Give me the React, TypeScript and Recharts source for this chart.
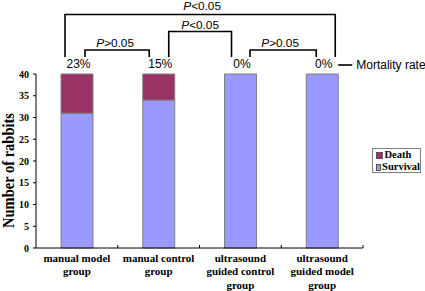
import React from "react";
import { BarChart, Bar, XAxis, YAxis, Legend, LabelList } from "recharts";

// ---- data ----
const categories = [
  "manual model\ngroup",
  "manual control\ngroup",
  "ultrasound\nguided control\ngroup",
  "ultrasound\nguided model\ngroup",
];
const survival = [31, 34, 40, 40];
const death = [9, 6, 0, 0];
const yTicks = [0, 5, 10, 15, 20, 25, 30, 35, 40];
const comparisons = [
  { from: 0, to: 3, op: "<", p: "0.05" },
  { from: 1, to: 2, op: "<", p: "0.05" },
  { from: 0, to: 1, op: ">", p: "0.05" },
  { from: 2, to: 3, op: ">", p: "0.05" },
];
const seriesNames = { survival: "Survival", death: "Death" };
const legendOrder = ["Death", "Survival"];
const rateLabel = "Mortality rate";
const yLabel = "Number of rabbits";

// ---- layout / style ----
const W = 425;
const H = 291;
const PLOT_LEFT = 36;
const PLOT_RIGHT = 363;
const PLOT_TOP = 74;
const PLOT_BOTTOM = 248;
const STEP = (PLOT_RIGHT - PLOT_LEFT) / categories.length;
const SERIF = '"Liberation Serif", "Times New Roman", serif';
const SANS = '"Liberation Sans", Arial, sans-serif';
const SURV_COLOR = "#9999FF";
const DEATH_COLOR = "#993366";
const BAR_STROKE = "#808080";

// bracket geometry per comparison (index-aligned with comparisons)
const BRACKET_GEOM = [
  { top: 14.5, bottom: 57, l: -12, r: 13, textY: 10, tdx: 2 },
  { top: 31.5, bottom: 57, l: 10, r: -9, textY: 28.5, tdx: 0 },
  { top: 50, bottom: 57, l: 8, r: -9.5, textY: 46.5, tdx: -2 },
  { top: 50, bottom: 57, l: 9.5, r: -6, textY: 46.5, tdx: -3 },
];

const data = categories.map((c, i) => ({
  name: c,
  survival: survival[i],
  death: death[i],
}));

const XTick = (props: any) => {
  const { x, payload } = props;
  const lines = String(payload.value).split("\n");
  const bx = x + STEP / 2;
  return (
    <g>
      <line x1={bx} x2={bx} y1={PLOT_BOTTOM} y2={PLOT_BOTTOM - 3} stroke="#000" strokeWidth={1} />
      <text
        x={x}
        y={PLOT_BOTTOM + 13.5}
        textAnchor="middle"
        fontFamily={SERIF}
        fontWeight="bold"
        fontSize={11}
        fill="#000"
      >
        {lines.map((l, i) => (
          <tspan key={i} x={x} dy={i === 0 ? 0 : 13.5}>
            {l}
          </tspan>
        ))}
      </text>
    </g>
  );
};

const TopAnnotations = (props: any) => {
  const vb = props.viewBox || {};
  const x = vb.x ?? props.x;
  const width = vb.width ?? props.width;
  const index = props.index;
  if (x == null || width == null) return null;
  const cx = x + width / 2;
  const pct = Math.round((death[index] / (death[index] + survival[index])) * 100);
  const items: any[] = [
    <text
      key="pct"
      x={cx + 1.5}
      y={68}
      textAnchor="middle"
      fontFamily={SANS}
      fontSize={12}
      fill="#000"
    >
      {pct + "%"}
    </text>,
  ];
  if (index === 0) {
    const center = (i: number) => cx + i * STEP;
    comparisons.forEach((c, k) => {
      const g = BRACKET_GEOM[k];
      const x1 = center(c.from) + g.l;
      const x2 = center(c.to) + g.r;
      items.push(
        <path
          key={"br" + k}
          d={`M${x1},${g.bottom} L${x1},${g.top} L${x2},${g.top} L${x2},${g.bottom}`}
          fill="none"
          stroke="#000"
          strokeWidth={1.6}
        />
      );
      items.push(
        <text
          key={"bt" + k}
          x={(x1 + x2) / 2 + g.tdx}
          y={g.textY}
          textAnchor="middle"
          fontFamily={SANS}
          fontSize={11.8}
          fill="#000"
        >
          <tspan fontStyle="italic">P</tspan>
          {c.op + c.p}
        </text>
      );
    });
    const lx = center(categories.length - 1) + 16;
    items.push(
      <line key="ml" x1={lx} x2={lx + 14} y1={65} y2={65} stroke="#000" strokeWidth={1.6} />
    );
    items.push(
      <text key="mt" x={lx + 18} y={68.5} fontFamily={SANS} fontSize={12} fill="#000">
        {rateLabel}
      </text>
    );
  }
  return <g>{items}</g>;
};

const LegendBox = (props: any) => {
  const payload = [...(props.payload || [])].sort(
    (a: any, b: any) => legendOrder.indexOf(a.value) - legendOrder.indexOf(b.value)
  );
  return (
    <div
      style={{
        border: "1px solid #808080",
        boxSizing: "border-box",
        width: 49,
        height: 25,
        padding: "0px 0 0 3px",
        background: "#fff",
        fontFamily: SERIF,
        fontWeight: "bold",
        fontSize: 10.5,
        lineHeight: "12px",
        color: "#000",
      }}
    >
      {payload.map((it: any) => (
        <div
          key={it.value}
          style={{ display: "flex", alignItems: "center", whiteSpace: "nowrap", height: 12 }}
        >
          <span
            style={{
              display: "inline-block",
              width: 5,
              height: 5,
              background: it.color,
              border: "0.5px solid #555",
              marginRight: 1.5,
            }}
          />
          {it.value}
        </div>
      ))}
    </div>
  );
};

export default function App() {
  return (
    <div style={{ position: "absolute", left: 0, top: 0, width: W, height: H, background: "#fff" }}>
      <BarChart
        width={W}
        height={H}
        data={data}
        margin={{ top: PLOT_TOP, right: W - PLOT_RIGHT, bottom: 0, left: 0 }}
      >
        <XAxis
          dataKey="name"
          height={H - PLOT_BOTTOM}
          axisLine={{ stroke: "#000", strokeWidth: 1 }}
          tickLine={false}
          tick={<XTick />}
          interval={0}
        />
        <YAxis
          width={PLOT_LEFT}
          domain={[0, 40]}
          ticks={yTicks}
          interval={0}
          axisLine={{ stroke: "#000", strokeWidth: 1 }}
          tickLine={{ stroke: "#000" }}
          tickSize={3}
          tickMargin={4}
          tick={{ fontFamily: SERIF, fontWeight: "bold", fontSize: 10, fill: "#000" }}
          label={() => (
            <text
              transform="translate(13.5,170.5) rotate(-90)"
              textAnchor="middle"
              fontFamily={SERIF}
              fontWeight="bold"
              fontSize={16.5}
              textLength={115}
              lengthAdjust="spacingAndGlyphs"
              fill="#000"
            >
              {yLabel}
            </text>
          )}
        />
        <Legend
          layout="horizontal"
          verticalAlign="middle"
          align="center"
          content={<LegendBox />}
          wrapperStyle={{ position: "absolute", left: 372, top: 148, width: 49, height: 25 }}
        />
        <Bar
          dataKey="survival"
          name={seriesNames.survival}
          stackId="a"
          fill={SURV_COLOR}
          stroke={BAR_STROKE}
          strokeWidth={1}
          barSize={32}
          isAnimationActive={false}
        >
          <LabelList dataKey="survival" content={<TopAnnotations />} />
        </Bar>
        <Bar
          dataKey="death"
          name={seriesNames.death}
          stackId="a"
          fill={DEATH_COLOR}
          stroke={BAR_STROKE}
          strokeWidth={1}
          barSize={32}
          isAnimationActive={false}
        />
      </BarChart>
    </div>
  );
}
